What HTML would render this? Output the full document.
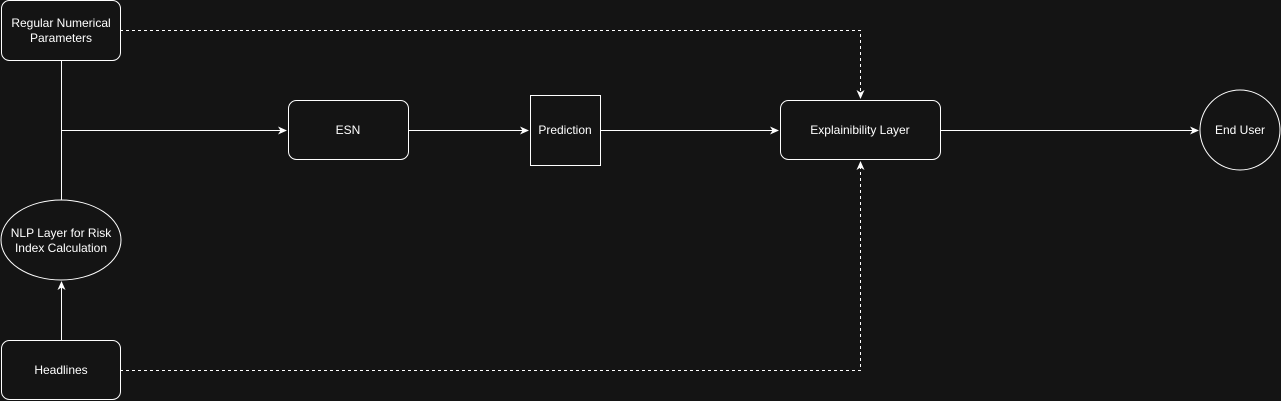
<!DOCTYPE html>
<html><head><style>
html,body{margin:0;padding:0;background:#141414;}
svg{display:block;}
text{font-family:"Liberation Sans",Arial,sans-serif;font-size:12px;fill:#ffffff;text-anchor:middle;}
</style></head><body>
<svg width="1281" height="401" viewBox="0 0 1281 401" xmlns="http://www.w3.org/2000/svg">
<defs>
<marker id="a" markerWidth="10" markerHeight="10" refX="8" refY="5" orient="auto" markerUnits="userSpaceOnUse">
<path d="M0,1 L9,5 L0,9 L2.5,5 Z" fill="#fff"/>
</marker>
</defs>
<rect width="1281" height="401" fill="#141414"/>
<g stroke="#fff" stroke-width="1" fill="none">
<path d="M61.5,60 V200"/>
<path d="M61.5,130.5 H286" marker-end="url(#a)"/>
<path d="M61.5,340 V282" marker-end="url(#a)"/>
<path d="M120,30.5 H860.5 V98" stroke-dasharray="3,3" marker-end="url(#a)"/>
<path d="M120,370.5 H860.5 V162" stroke-dasharray="3,3" marker-end="url(#a)"/>
<path d="M408,130.5 H528" marker-end="url(#a)"/>
<path d="M600,130.5 H778" marker-end="url(#a)"/>
<path d="M940,130.5 H1198" marker-end="url(#a)"/>
</g>
<g stroke="#fff" stroke-width="1" fill="#141414">
<rect x="1.5" y="0.5" width="119" height="60" rx="8"/>
<rect x="288.5" y="100.5" width="120" height="59" rx="8"/>
<rect x="530.5" y="95.5" width="70" height="70"/>
<rect x="780.5" y="100.5" width="160" height="59" rx="8"/>
<circle cx="1240" cy="130" r="40"/>
<ellipse cx="61" cy="240" rx="60" ry="40"/>
<rect x="1.5" y="340.5" width="119" height="59" rx="8"/>
</g>
<text x="61" y="27">Regular Numerical</text>
<text x="61" y="42">Parameters</text>
<text x="348" y="134">ESN</text>
<text x="565" y="134">Prediction</text>
<text x="860" y="134">Explainibility Layer</text>
<text x="1240" y="134">End User</text>
<text x="61" y="237">NLP Layer for Risk</text>
<text x="61" y="252">Index Calculation</text>
<text x="61" y="374">Headlines</text>
</svg>
</body></html>
